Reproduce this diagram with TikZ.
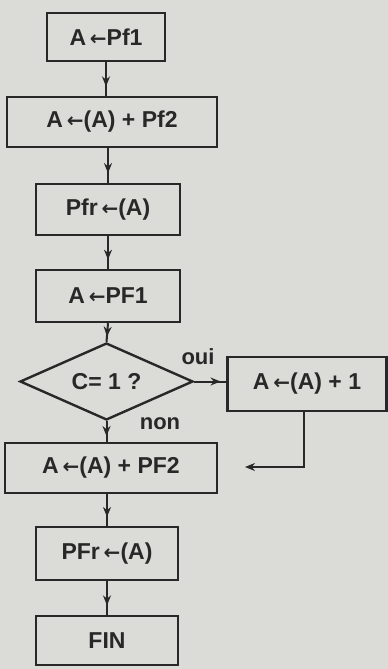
\documentclass[tikz,border=0pt]{standalone}
\usepackage{fontspec}
\setmainfont{Liberation Sans}
\newfontfamily\arrowfont{DejaVu Sans}
\usetikzlibrary{shapes.geometric,arrows.meta,decorations.markings}
\definecolor{bg}{RGB}{219,220,215}
\definecolor{ink}{RGB}{40,40,40}
\newcommand{\la}{\,{\arrowfont\fontsize{20}{22}\selectfont ←}}
\begin{document}
\begin{tikzpicture}[x=1pt,y=-1pt,
  every node/.style={font=\fontsize{23}{26}\selectfont\bfseries, text=ink},
  box/.style={draw=ink, line width=2.4pt, inner sep=0pt},
  flow/.style={draw=ink, line width=2pt, postaction={decorate},
    decoration={markings, mark=at position 0.72 with {\arrow{Stealth[length=10pt,width=8pt]}}}},
  flowr/.style={draw=ink, line width=2pt, postaction={decorate},
    decoration={markings, mark=at position 0.82 with {\arrow{Stealth[length=10pt,width=8pt]}}}},
  endarrow/.style={draw=ink, line width=2pt, -{Stealth[length=10pt,width=8pt]}},
  lbl/.style={font=\fontsize{22}{24}\selectfont\bfseries, text=ink}]
\fill[bg] (0,0) rectangle (388,669);
\useasboundingbox (0,0) rectangle (388,669);
\node[box, minimum width=118pt, minimum height=48pt] (b1) at (106,37) {A\la Pf1};
\node[box, minimum width=210pt, minimum height=50pt] (b2) at (112,122) {A\la(A) + Pf2};
\node[box, minimum width=144pt, minimum height=51pt] (b3) at (108,209.5) {Pfr\la(A)};
\node[box, minimum width=144pt, minimum height=52pt] (b4) at (108,296) {A\la PF1};
\node[box, shape=diamond, aspect=2.25, minimum width=173pt, minimum height=77pt] (d) at (106.5,381.5) {C= 1 ?};
\node[box, minimum width=159pt, minimum height=54pt] (r) at (307,384) {A\la(A) + 1};
\node[box, minimum width=212pt, minimum height=50pt] (b5) at (111,468) {A\la(A) + PF2};
\node[box, minimum width=142pt, minimum height=53pt] (b6) at (107,553.5) {PFr\la(A)};
\node[box, minimum width=142pt, minimum height=49pt] (b7) at (107,640.5) {FIN};
\node[lbl] (oui) at (198,357) {oui};
\node[lbl] (non) at (160,424) {non};
\coordinate (ret) at (245,467);
\draw[flow] (b1.south) -- (b1.south |- b2.north);
\draw[flow] (b2.south -| b3.north) -- (b3.north);
\draw[flow] (b3.south) -- (b4.north);
\draw[flow] (b4.south) -- (d.north);
\draw[flow] (d.south) -- (d.south |- b5.north);
\draw[flow] (b5.south -| b6.north) -- (b6.north);
\draw[flow] (b6.south) -- (b7.north);
\draw[flowr] (d.east) -- (r.west |- d.east);
\draw[endarrow] ([xshift=-3pt]r.south) |- (ret);
\end{tikzpicture}
\end{document}
